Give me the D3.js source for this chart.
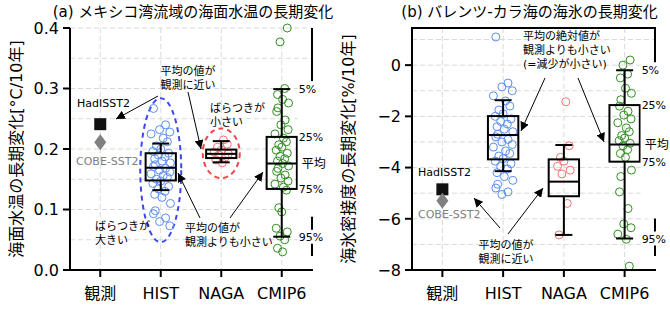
<!DOCTYPE html>
<html><head><meta charset="utf-8">
<script src="https://cdn.jsdelivr.net/npm/d3@7"></script>
<style>
body{margin:0;background:#fff}
svg{display:block}
text{font-family:"DejaVu Sans","Noto Sans CJK JP",sans-serif;fill:#000}
</style>
</head><body><svg id="c" width="670" height="334"></svg>
<script>
// ---------------- data ----------------
const categories = ["観測", "HIST", "NAGA", "CMIP6"];
const models = ["HIST", "NAGA", "CMIP6"];
const obsNames = ["HadISST2", "COBE-SST2"];
const percentileLabels = ["5%", "25%", "平均", "75%", "95%"];

// (a) SST trend [°C/10yr]
const sstTicks = [0.0, 0.1, 0.2, 0.3, 0.4];
const sstObs = [0.241, 0.211];
const sstHist = [0.267, 0.240, 0.232, 0.228, 0.225, 0.218, 0.212, 0.205, 0.200, 0.196, 0.193, 0.190, 0.187,
  0.184, 0.180, 0.177, 0.174, 0.171, 0.168, 0.165, 0.162, 0.159, 0.156, 0.153, 0.150, 0.147, 0.143, 0.138,
  0.134, 0.130, 0.125, 0.120, 0.110, 0.098, 0.093, 0.086, 0.080, 0.073];
const sstNaga = [0.215, 0.208, 0.203, 0.198, 0.195, 0.192, 0.190, 0.186, 0.182, 0.177];
const sstCmip6 = [0.400, 0.377, 0.300, 0.290, 0.282, 0.276, 0.268, 0.262, 0.248, 0.240, 0.232, 0.225, 0.218,
  0.212, 0.207, 0.203, 0.198, 0.193, 0.188, 0.184, 0.180, 0.176, 0.172, 0.168, 0.163, 0.157, 0.152, 0.147,
  0.142, 0.137, 0.132, 0.103, 0.096, 0.069, 0.063, 0.056, 0.050, 0.036, 0.030];
const sstP5   = [0.209, 0.213, 0.299];
const sstP25  = [0.193, 0.199, 0.220];
const sstMean = [0.169, 0.192, 0.176];
const sstP75  = [0.148, 0.185, 0.134];
const sstP95  = [0.132, 0.178, 0.055];

// (b) Sea-ice concentration trend [%/10yr]
const iceTicks = [0, -2, -4, -6, -8];
const iceObs = [-4.85, -5.30];
const iceHist = [1.10, -0.70, -0.85, -1.00, -1.20, -1.40, -1.60, -1.75, -1.90, -2.00, -2.10, -2.20, -2.30,
  -2.40, -2.50, -2.60, -2.70, -2.80, -2.90, -3.00, -3.10, -3.20, -3.35, -3.45, -3.55, -3.65, -3.75, -3.85,
  -3.95, -4.05, -4.20, -4.35, -4.50, -4.65, -4.80, -4.95, -5.05];
const iceNaga = [-1.43, -3.15, -3.60, -3.75, -3.95, -4.10, -4.25, -5.40, -6.63];
const iceCmip6 = [0.20, 0.00, -0.35, -0.50, -0.90, -1.10, -1.35, -1.60, -1.80, -1.95, -2.10, -2.25, -2.45,
  -2.60, -2.75, -2.85, -2.95, -3.05, -3.15, -3.30, -3.45, -3.60, -4.10, -4.35, -4.95, -5.60, -6.20, -6.35,
  -6.60, -6.80, -7.85];
const iceP5   = [-1.37, -3.12, -0.20];
const iceP25  = [-1.99, -3.68, -1.56];
const iceMean = [-2.73, -4.55, -3.10];
const iceP75  = [-3.68, -5.12, -3.77];
const iceP95  = [-4.14, -6.63, -6.77];

// ---------------- drawing ----------------
const svg = d3.select("#c");
const colors = {HIST: "#5a8ef0", NAGA: "#f27272", CMIP6: "#2f8f1f"};
const jitter = [-0.12, 0.08, -0.02, 0.15, -0.16, 0.04, 0.11, -0.07, 0.0, -0.13, 0.13, -0.04, 0.07, -0.1, 0.02, 0.16, -0.09];

const defs = svg.append("defs");
defs.append("marker").attr("id", "ah").attr("viewBox", "0 0 10 10").attr("refX", 10).attr("refY", 5)
  .attr("markerWidth", 9).attr("markerHeight", 9).attr("markerUnits", "userSpaceOnUse").attr("orient", "auto")
  .append("path").attr("d", "M0,0 L10,5 L0,10 Z").attr("fill", "#000");

function panel(cfg) {
  const g = svg.append("g");
  const x = d3.scaleLinear().domain([0.5, 4.5]).range([cfg.x0, cfg.x1]);
  const y = d3.scaleLinear().domain(cfg.ydom).range([cfg.yb, cfg.yt]);

  // grid
  const gridVals = d3.range(cfg.ydom[0], cfg.ydom[1] + 1e-9, cfg.gridStep);
  g.selectAll(".hg").data(gridVals).join("line")
    .attr("x1", cfg.x0).attr("x2", cfg.x1).attr("y1", d => y(d)).attr("y2", d => y(d))
    .attr("stroke", "#d9d9d9").attr("stroke-width", 1).attr("stroke-dasharray", "5,3");
  g.selectAll(".vg").data(categories).join("line")
    .attr("x1", (d, i) => x(i + 1)).attr("x2", (d, i) => x(i + 1)).attr("y1", cfg.yt).attr("y2", cfg.yb)
    .attr("stroke", "#d9d9d9").attr("stroke-width", 1).attr("stroke-dasharray", "5,3");

  // ellipses
  (cfg.ellipses || []).forEach(e => {
    g.append("ellipse").attr("cx", x(e.cx)).attr("cy", y(e.cy))
      .attr("rx", e.rx).attr("ry", Math.abs(y(e.cy + e.ry) - y(e.cy)))
      .attr("fill", "none").attr("stroke", e.color).attr("stroke-width", 2).attr("stroke-dasharray", "5,4");
  });

  // points
  cfg.series.forEach((vals, mi) => {
    const m = models[mi];
    g.append("g").selectAll("circle").data(vals).join("circle")
      .attr("cx", (d, i) => x(mi + 2 + jitter[(i + mi * 5) % jitter.length] * cfg.jit[mi]))
      .attr("cy", d => y(d)).attr("r", 4)
      .attr("fill", "none").attr("stroke", colors[m]).attr("stroke-width", 1);
  });

  // boxes
  models.forEach((m, mi) => {
    const cx = x(mi + 2), hw = (x(1.25) - x(1)), cw = (x(1.14) - x(1));
    const s = [cfg.p5[mi], cfg.p25[mi], cfg.mean[mi], cfg.p75[mi], cfg.p95[mi]];
    const bg = g.append("g").attr("stroke", "#000").attr("stroke-width", 2).attr("fill", "none");
    bg.append("line").attr("x1", cx).attr("x2", cx).attr("y1", y(s[0])).attr("y2", y(s[1]));
    bg.append("line").attr("x1", cx).attr("x2", cx).attr("y1", y(s[3])).attr("y2", y(s[4]));
    bg.append("line").attr("x1", cx - cw).attr("x2", cx + cw).attr("y1", y(s[0])).attr("y2", y(s[0]));
    bg.append("line").attr("x1", cx - cw).attr("x2", cx + cw).attr("y1", y(s[4])).attr("y2", y(s[4]));
    bg.append("rect").attr("x", cx - hw).attr("width", 2 * hw).attr("y", y(s[1])).attr("height", y(s[3]) - y(s[1]));
    bg.append("line").attr("x1", cx - hw).attr("x2", cx + hw).attr("y1", y(s[2])).attr("y2", y(s[2]));
  });

  // observations
  const ox = x(1);
  g.append("rect").attr("x", ox - 6).attr("y", y(cfg.obs[0]) - 6).attr("width", 12).attr("height", 12).attr("fill", "#111");
  g.append("path").attr("d", `M${ox},${y(cfg.obs[1]) - 8} L${ox + 6},${y(cfg.obs[1])} L${ox},${y(cfg.obs[1]) + 8} L${ox - 6},${y(cfg.obs[1])} Z`).attr("fill", "#808080");
  g.append("text").attr("x", cfg.obsLab[0][0]).attr("y", cfg.obsLab[0][1]).attr("font-size", 11).text(obsNames[0]);
  g.append("text").attr("x", cfg.obsLab[1][0]).attr("y", cfg.obsLab[1][1]).attr("font-size", 11).style("fill", "#808080").text(obsNames[1]);

  // axes spines
  const sp = g.append("g").attr("stroke", "#000").attr("stroke-width", 2).attr("fill", "none");
  sp.append("line").attr("x1", cfg.x0).attr("x2", cfg.x0).attr("y1", cfg.yt).attr("y2", cfg.yb + 1);
  sp.append("line").attr("x1", cfg.x0 - 1).attr("x2", cfg.x1 + 1).attr("y1", cfg.yb).attr("y2", cfg.yb);
  sp.append("line").attr("x1", cfg.x1).attr("x2", cfg.x1).attr("y1", cfg.yt).attr("y2", cfg.yb - 14);
  if (cfg.topSpine) sp.append("line").attr("x1", cfg.x0 - 1).attr("x2", cfg.x1 + 1).attr("y1", cfg.yt).attr("y2", cfg.yt);

  // percentile labels for CMIP6 (white backing over the right spine)
  const ci = 2;
  const pv = [cfg.p5[ci], cfg.p25[ci], cfg.mean[ci], cfg.p75[ci], cfg.p95[ci]];
  const lx = x(4) + 17;
  g.append("rect").attr("x", lx - 1).attr("y", y(pv[0]) - 8).attr("width", 34)
    .attr("height", (y(pv[4]) - 20) - (y(pv[0]) - 8)).attr("fill", "#fff");
  g.append("rect").attr("x", lx - 1).attr("y", y(pv[4]) - 7).attr("width", 26).attr("height", 14).attr("fill", "#fff");
  g.selectAll(".pl").data(percentileLabels).join("text")
    .attr("x", (d, i) => lx + (i === 2 ? 3 : 0)).attr("y", (d, i) => y(pv[i]) + 4)
    .attr("font-size", (d, i) => i === 2 ? 12 : 11).text(d => d);

  // y ticks
  g.selectAll(".yt").data(cfg.ticks).join("line")
    .attr("x1", cfg.x0 - 7).attr("x2", cfg.x0).attr("y1", d => y(d)).attr("y2", d => y(d))
    .attr("stroke", "#000").attr("stroke-width", 2);
  g.selectAll(".ytl").data(cfg.ticks).join("text")
    .attr("x", cfg.x0 - 11).attr("y", d => y(d)).attr("dy", "0.36em").attr("text-anchor", "end")
    .attr("font-size", 16).text(cfg.fmt);
  // x ticks
  g.selectAll(".xt").data(categories).join("line")
    .attr("x1", (d, i) => x(i + 1)).attr("x2", (d, i) => x(i + 1)).attr("y1", cfg.yb).attr("y2", cfg.yb + 7)
    .attr("stroke", "#000").attr("stroke-width", 2);
  g.selectAll(".xtl").data(categories).join("text")
    .attr("x", (d, i) => x(i + 1)).attr("y", cfg.yb + 29).attr("text-anchor", "middle")
    .attr("font-size", 16).text(d => d);

  // title + y label
  g.append("text").attr("x", (cfg.x0 + cfg.x1) / 2 + cfg.titleDx).attr("y", 17).attr("text-anchor", "middle")
    .attr("font-size", 15).text(cfg.title);
  g.append("text").attr("transform", `translate(${cfg.ylabX},${(cfg.yt + cfg.yb) / 2}) rotate(-90)`)
    .attr("text-anchor", "middle").attr("font-size", 16).text(cfg.ylabel);

  // annotations
  cfg.notes.forEach(n => {
    const t = g.append("text").attr("x", n.x).attr("y", n.y).attr("font-size", 11)
      .attr("text-anchor", n.anchor || "start");
    n.lines.forEach((l, k) => t.append("tspan").attr("x", n.x).attr("dy", k === 0 ? 0 : 14).text(l));
  });
  cfg.arrows.forEach(a => {
    g.append("line").attr("x1", a[0]).attr("y1", a[1]).attr("x2", a[2]).attr("y2", a[3])
      .attr("stroke", "#000").attr("stroke-width", 1).attr("marker-end", "url(#ah)");
  });
}

panel({
  x0: 70, x1: 312, yt: 28, yb: 270, ydom: [0, 0.4], gridStep: 0.05, ticks: sstTicks,
  fmt: d => d.toFixed(1), series: [sstHist, sstNaga, sstCmip6], jit: [1, 0.9, 0.7],
  p5: sstP5, p25: sstP25, mean: sstMean, p75: sstP75, p95: sstP95, obs: sstObs,
  obsLab: [[77, 107], [76, 165]], topSpine: false, titleDx: 2,
  title: "(a) メキシコ湾流域の海面水温の長期変化", ylabel: "海面水温の長期変化[°C/10年]", ylabX: 22,
  ellipses: [{cx: 2, cy: 0.165, rx: 20.5, ry: 0.119, color: "#3a47f0"}, {cx: 3, cy: 0.193, rx: 18.5, ry: 0.041, color: "#f04545"}],
  notes: [
    {x: 188, y: 75, anchor: "middle", lines: ["平均の値が", "観測に近い"]},
    {x: 210, y: 112, lines: ["ばらつきが", "小さい"]},
    {x: 95, y: 230, lines: ["ばらつきが", "大きい"]},
    {x: 185, y: 232, lines: ["平均の値が", "観測よりも小さい"]}
  ],
  arrows: [[158, 96, 116, 119], [188, 92, 201, 149], [200, 218, 178, 173], [230, 218, 263, 172]]
});

panel({
  x0: 412, x1: 655, yt: 28, yb: 270, ydom: [-8, 1.45], gridStep: 1, ticks: iceTicks,
  fmt: d => d < 0 ? "\u2212" + Math.abs(d) : String(d), series: [iceHist, iceNaga, iceCmip6], jit: [1, 0.8, 0.7],
  p5: iceP5, p25: iceP25, mean: iceMean, p75: iceP75, p95: iceP95, obs: iceObs,
  obsLab: [[418, 176], [418, 218]], topSpine: true, titleDx: -4,
  title: "(b) バレンツ-カラ海の海氷の長期変化", ylabel: "海氷密接度の長期変化[%/10年]", ylabX: 354,
  ellipses: [],
  notes: [
    {x: 523, y: 40, lines: ["平均の絶対値が", "観測よりも小さい", "(=減少が小さい)"]},
    {x: 506, y: 249, anchor: "middle", lines: ["平均の値が", "観測に近い"]}
  ],
  arrows: [[545, 78, 521, 131], [578, 78, 604, 142], [500, 228, 474, 198], [508, 234, 543, 188]]
});
</script>
</body></html>
